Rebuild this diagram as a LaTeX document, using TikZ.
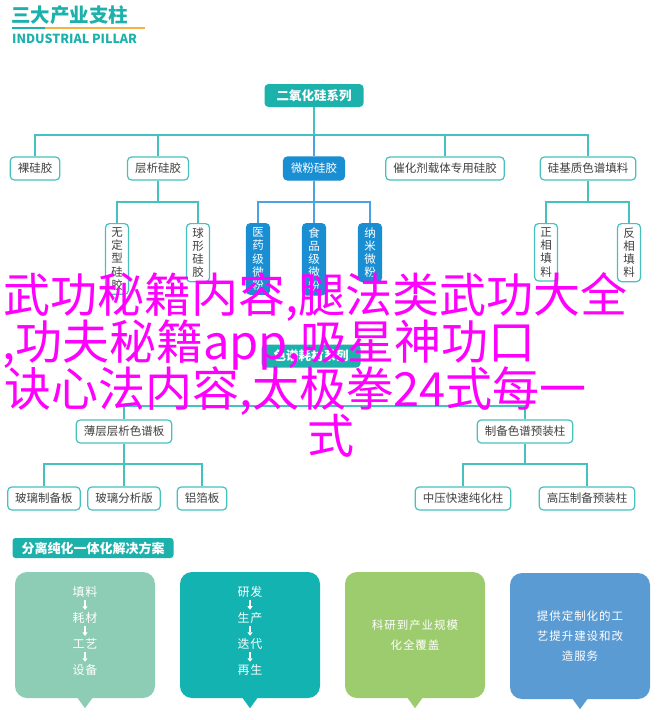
\documentclass[tikz,border=0pt]{standalone}
\usepackage{fontspec}
\setmainfont{Noto Sans CJK SC}
\usetikzlibrary{arrows.meta,calc}
\definecolor{teal1}{HTML}{1DB1AC}
\definecolor{tline}{HTML}{45C1BF}
\definecolor{nblue}{HTML}{1A8ED3}
\definecolor{bline}{HTML}{4BA3E3}
\definecolor{txt}{HTML}{404040}
\definecolor{orange1}{HTML}{F5B347}
\definecolor{pmint}{HTML}{8DCDB5}
\definecolor{pteal}{HTML}{12B3B1}
\definecolor{pgreen}{HTML}{9CCC6E}
\definecolor{pblue}{HTML}{5B9BD3}
\definecolor{mag}{HTML}{FF00FF}
\tikzset{
  tl/.style={draw=tline, line width=1.2pt},
  bl/.style={draw=bline, line width=1.2pt},
  leaf/.style={draw=tline, line width=1.2pt, fill=white, rounded corners=4pt,
    inner xsep=7.5pt, inner ysep=0pt, minimum height=23pt, text=txt,
    font=\fontsize{11.5}{13}\selectfont},
  bleaf/.style={leaf, draw=nblue, fill=nblue, text=white},
  vleaf/.style={leaf, align=center, anchor=north, inner xsep=2pt, inner ysep=4pt,
    minimum height=0pt, minimum width=23pt, font=\fontsize{11.5}{13.2}\selectfont},
  vbleaf/.style={vleaf, draw=nblue, fill=nblue, text=white},
  rootbox/.style={fill=teal1, rounded corners=4pt, text=white, inner xsep=12pt,
    inner ysep=0pt, minimum height=23pt, font=\fontsize{12.5}{14}\selectfont\bfseries},
  hdr/.style={fill=teal1, rounded corners=3pt, text=white, inner xsep=9pt,
    inner ysep=0pt, minimum height=20pt, font=\fontsize{13}{14}\selectfont\bfseries},
  panel/.style={rounded corners=12pt, minimum width=140pt, minimum height=126pt,
    text=white, align=center, inner sep=0pt,
    font=\fontsize{11.5}{20}\selectfont\addfontfeatures{LetterSpace=8}},
  word/.style={text=white, inner sep=1pt,
    font=\fontsize{12}{13}\selectfont\addfontfeatures{LetterSpace=8}},
  warr/.style={draw=white, line width=1.2pt, shorten <=1.5pt, shorten >=1.5pt,
    -{Triangle[width=5pt,length=3.5pt]}},
  mag/.style={text=mag, inner sep=0pt, font=\fontsize{47}{47}\selectfont}
}
\begin{document}
\begin{tikzpicture}[x=1pt,y=-1pt]
\useasboundingbox (0,0) rectangle (660,720);
\fill[white] (0,0) rectangle (660,720);

% header
\node[anchor=base west, inner sep=0pt, text=teal1, font=\fontsize{19.5}{20}\selectfont\bfseries] (title) at (11,22.5) {三大产业支柱};
\draw[teal1, line width=2pt] (12,28) -- (45,28);
\draw[orange1, line width=2pt] (45,28) -- (145,28);
\node[anchor=base west, inner sep=0pt, text=teal1, font=\fontsize{12.5}{13}\selectfont\bfseries] (sub) at (12,43.5) {INDUSTRIAL PILLAR};

% tree 1
\node[rootbox] (root) at (314,95.5) {二氧化硅系列};
\node[leaf] (a1) at (35,168.5) {裸硅胶};
\node[leaf] (a2) at (158,168.5) {层析硅胶};
\node[bleaf] (a3) at (314,168.5) {微粉硅胶};
\node[leaf] (a4) at (445,168.5) {催化剂载体专用硅胶};
\node[leaf] (a5) at (588,168.5) {硅基质色谱填料};

\node[vleaf] (b1) at (117,223) {无\\定\\型\\硅\\胶};
\node[vleaf] (b2) at (198,223) {球\\形\\硅\\胶};
\node[vbleaf] (b3) at (258,223) {医\\药\\级\\微\\粉};
\node[vbleaf] (b4) at (314,223) {食\\品\\级\\微\\粉};
\node[vbleaf] (b5) at (370,223) {纳\\米\\微\\粉};
\node[vleaf] (b6) at (546,223) {正\\相\\填\\料};
\node[vleaf] (b7) at (629,223) {反\\相\\填\\料};

% tree 2
\node[rootbox] (c0) at (311,356) {色谱耗材系列};
\node[leaf] (c1) at (124,431.5) {薄层层析色谱板};
\node[leaf] (c2) at (525,431.5) {制备色谱预装柱};
\node[leaf] (d1) at (44,498.5) {玻璃制备板};
\node[leaf] (d2) at (124,498.5) {玻璃分析版};
\node[leaf] (d3) at (202,498.5) {铝箔板};
\node[leaf] (d4) at (463,498.5) {中压快速纯化柱};
\node[leaf] (d5) at (587,498.5) {高压制备预装柱};

% junctions
\coordinate (j1) at (314,135);
\coordinate (j2) at (158,202);
\coordinate (j3) at (314,202);
\coordinate (j4) at (588,202);
\coordinate (j5) at (311,406);
\coordinate (j6) at (124,464);
\coordinate (j7) at (525,464);

\draw[tl] (root.south) -- (j1);
\foreach \n in {a1,a2,a4,a5} \draw[tl] (j1) -| (\n.north);
\draw[bl] (j1) -- (a3.north);
\draw[tl] (a2.south) -- (j2);
\foreach \n in {b1,b2} \draw[tl] (j2) -| (\n.north);
\draw[bl] (a3.south) -- (j3);
\foreach \n in {b3,b4,b5} \draw[bl] (j3) -| (\n.north);
\draw[tl] (a5.south) -- (j4);
\foreach \n in {b6,b7} \draw[tl] (j4) -| (\n.north);
\draw[tl] (c0.south) -- (j5);
\foreach \n in {c1,c2} \draw[tl] (j5) -| (\n.north);
\draw[tl] (c1.south) -- (j6);
\foreach \n in {d1,d2,d3} \draw[tl] (j6) -| (\n.north);
\draw[tl] (c2.south) -- (j7);
\foreach \n in {d4,d5} \draw[tl] (j7) -| (\n.north);

% bottom section
\node[hdr] (h) at (93,548) {分离纯化一体化解决方案};
\node[panel, fill=pmint] (p1) at (85,635) {};
\node[panel, fill=pteal] (p2) at (250,635) {};
\node[panel, fill=pgreen] (p3) at (415,635) {科研到产业规模\\化全覆盖};
\node[panel, fill=pblue] (p4) at (580,636) {提供定制化的工\\艺提升建设和改\\造服务};
\foreach \p/\c in {p1/pmint,p2/pteal,p3/pgreen,p4/pblue}
  \fill[\c] ($(\p.south)+(-8,-1)$) -- ($(\p.south)+(0,10)$) -- ($(\p.south)+(8,-1)$) -- cycle;

\node[word] (w11) at (85,592) {填料};
\node[word] (w12) at (85,618) {耗材};
\node[word] (w13) at (85,644) {工艺};
\node[word] (w14) at (85,670) {设备};
\node[word] (w21) at (250,592) {研发};
\node[word] (w22) at (250,618) {生产};
\node[word] (w23) at (250,644) {迭代};
\node[word] (w24) at (250,670) {再生};
\draw[warr] (w11) -- (w12);
\draw[warr] (w12) -- (w13);
\draw[warr] (w13) -- (w14);
\draw[warr] (w21) -- (w22);
\draw[warr] (w22) -- (w23);
\draw[warr] (w23) -- (w24);

% overlay text
\node[mag, anchor=base west] (m1) at (3,312) {武功秘籍内容,腿法类武功大全};
\node[mag, anchor=base west] (m2) at (2,359) {,功夫秘籍app,吸星神功口};
\node[mag, anchor=base west] (m3) at (4,406) {诀心法内容,太极拳24式每一};
\node[mag, anchor=base] (m4) at (331,453) {式};
\end{tikzpicture}
\end{document}
